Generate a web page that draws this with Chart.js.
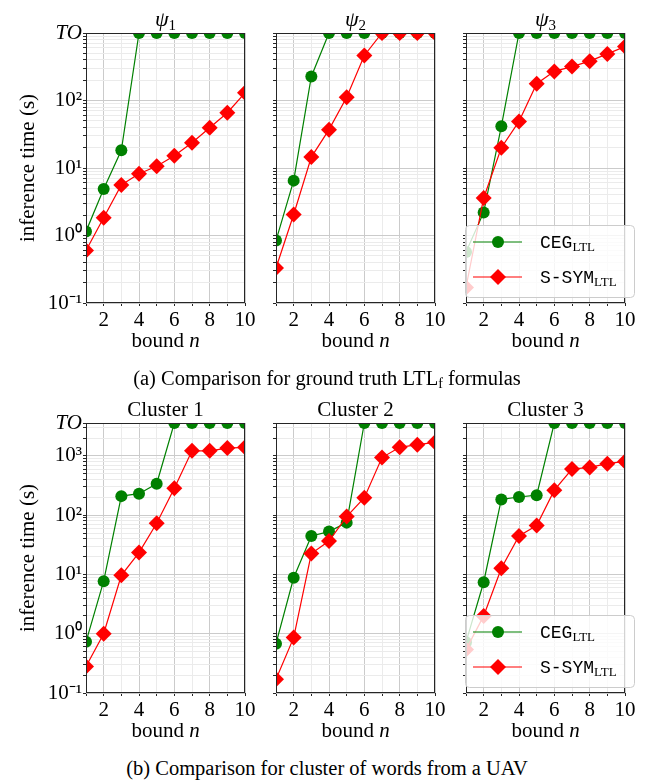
<!DOCTYPE html>
<html>
<head>
<meta charset="utf-8">
<script src="https://cdn.jsdelivr.net/npm/chart.js@4.4.1/dist/chart.umd.min.js"></script>
<style>
  body { margin: 0; background: #fff; }
  #fig { position: relative; width: 654px; height: 783px; overflow: hidden; }
  #fig canvas { position: absolute; }
  .caption {
    position: absolute; left: 0; width: 654px; text-align: center;
    font-family: "Liberation Serif", serif; font-size: 20.5px; line-height: 20px; color: #000;
  }
  .caption sub { font-size: 14px; vertical-align: -3px; line-height: 0; }
</style>
</head>
<body>
<div id="fig">
  <canvas id="psi1" width="260" height="360" style="left:0;top:0"></canvas>
  <canvas id="psi2" width="194" height="360" style="left:256px;top:0"></canvas>
  <canvas id="psi3" width="208" height="360" style="left:446px;top:0"></canvas>
  <canvas id="cl1" width="260" height="360" style="left:0;top:390px"></canvas>
  <canvas id="cl2" width="194" height="360" style="left:256px;top:390px"></canvas>
  <canvas id="cl3" width="208" height="360" style="left:446px;top:390px"></canvas>
  <div class="caption" style="top:368px">(a) Comparison for ground truth LTL<sub>f</sub> formulas</div>
  <div class="caption" style="top:758px">(b) Comparison for cluster of words from a UAV</div>
</div>
<script>
// bound n on the x axis
const bounds = [1, 2, 3, 4, 5, 6, 7, 8, 9, 10];
// time-out values (s) used for each row
const TO_A = 1000;
const TO_B = 3600;

// (a) ground truth formulas
const cegPsi1  = [1.15, 4.9, 18.3, TO_A, TO_A, TO_A, TO_A, TO_A, TO_A, TO_A];
const ssymPsi1 = [0.6, 1.83, 5.6, 8.2, 10.6, 15.2, 23.6, 39.4, 65.8, 130];
const cegPsi2  = [0.84, 6.5, 227, TO_A, TO_A, TO_A, TO_A, TO_A, TO_A, TO_A];
const ssymPsi2 = [0.33, 2.05, 14.5, 37, 112, 465, TO_A, TO_A, TO_A, TO_A];
const cegPsi3  = [0.57, 2.2, 41.5, TO_A, TO_A, TO_A, TO_A, TO_A, TO_A, TO_A];
const ssymPsi3 = [0.17, 3.6, 20, 49, 177, 270, 318, 383, 490, 630];

// (b) clusters of words from a UAV
const cegC1  = [0.73, 7.7, 210, 231, 340, TO_B, TO_B, TO_B, TO_B, TO_B];
const ssymC1 = [0.28, 1.0, 9.7, 23.4, 73, 285, 1220, 1220, 1360, 1400];
const cegC2  = [0.68, 8.8, 44.6, 53, 75, TO_B, TO_B, TO_B, TO_B, TO_B];
const ssymC2 = [0.17, 0.86, 22.5, 36.6, 95, 198, 940, 1400, 1550, 1700];
const cegC3  = [0.72, 7.4, 185, 203, 218, TO_B, TO_B, TO_B, TO_B, TO_B];
const ssymC3 = [0.54, 2.0, 12.7, 44.6, 67, 265, 600, 640, 740, 810];

const SERIF = '"Liberation Serif", serif';
const MONO = '"Liberation Mono", monospace';
const GREEN = '#008000';
const RED = '#ff0000';
const MAJOR = '#cbcbcb';
const MINOR = '#ebebeb';
const SPINE = '#262626';

const SUP = { '-1': '\u207B\u00B9', '0': '\u2070', '1': '\u00B9', '2': '\u00B2', '3': '\u00B3' };

// ticks for the log axis: decades get a label, the rest are minor
function logTicks(max) {
  const out = [];
  for (let e = -1; e <= 3; e++) {
    for (let k = 1; k <= 9; k++) {
      const v = Number((k * Math.pow(10, e)).toPrecision(2));
      if (v < max) out.push({ value: v, lbl: k === 1 ? '10' + SUP[e] : '' });
    }
  }
  out.push({ value: max, lbl: 'TO' });
  return out;
}

// draw text made of pieces with their own font / vertical shift
function drawRich(ctx, parts, cx, y, align) {
  let w = 0;
  parts.forEach(p => { ctx.font = p[1]; w += ctx.measureText(p[0]).width; });
  let x = align === 'left' ? cx : cx - w / 2;
  ctx.textAlign = 'left';
  ctx.textBaseline = 'alphabetic';
  parts.forEach(p => {
    ctx.font = p[1];
    ctx.fillText(p[0], x, y + (p[2] || 0));
    x += ctx.measureText(p[0]).width;
  });
}

function drawMarker(ctx, style, x, y, r, color) {
  ctx.fillStyle = color;
  ctx.beginPath();
  if (style === 'circle') {
    ctx.arc(x, y, r, 0, Math.PI * 2);
  } else {
    ctx.moveTo(x - r, y); ctx.lineTo(x, y - r); ctx.lineTo(x + r, y); ctx.lineTo(x, y + r);
    ctx.closePath();
  }
  ctx.fill();
}

const panelDecor = {
  id: 'panelDecor',
  afterDatasetsDraw(chart) {
    const { ctx, chartArea: a } = chart;
    ctx.save();
    ctx.strokeStyle = SPINE;
    ctx.lineWidth = 1;
    ctx.strokeRect(a.left + 0.5, a.top + 0.5, a.right - a.left - 1, a.bottom - a.top - 1);
    ctx.restore();
  },
  afterDraw(chart, args, opts) {
    const { ctx, chartArea: a } = chart;
    const cx = (a.left + a.right) / 2;
    ctx.save();
    ctx.fillStyle = '#000';
    drawRich(ctx, opts.title, cx, a.top - 7);
    drawRich(ctx, [['bound ', '21px ' + SERIF], ['n', 'italic 21px ' + SERIF]], cx, a.bottom + 44);
    if (opts.yTitle) {
      ctx.save();
      ctx.translate(28, (a.top + a.bottom) / 2);
      ctx.rotate(-Math.PI / 2);
      ctx.font = '21px ' + SERIF;
      ctx.textAlign = 'center';
      ctx.textBaseline = 'middle';
      ctx.fillText('inference time (s)', 0, 0);
      ctx.restore();
    }
    if (opts.legend) {
      const x0 = a.left - 1, y0 = a.bottom - 78, w = 169, h = 72;
      ctx.beginPath();
      ctx.roundRect(x0 + 0.5, y0 + 0.5, w, h, 4);
      ctx.fillStyle = 'rgba(255,255,255,0.8)';
      ctx.fill();
      ctx.strokeStyle = '#cccccc';
      ctx.lineWidth = 1;
      ctx.stroke();
      const items = [
        { color: GREEN, style: 'circle', r: 6, y: y0 + 17, text: 'CEG' },
        { color: RED, style: 'diamond', r: 8, y: y0 + 52, text: 'S-SYM' }
      ];
      items.forEach(it => {
        ctx.strokeStyle = it.color;
        ctx.lineWidth = 1.2;
        ctx.beginPath();
        ctx.moveTo(x0 + 8, it.y);
        ctx.lineTo(x0 + 57, it.y);
        ctx.stroke();
        drawMarker(ctx, it.style, x0 + 33, it.y, it.r, it.color);
        ctx.fillStyle = '#000';
        drawRich(ctx, [[it.text, '18px ' + MONO], ['LTL', '13px ' + SERIF, 3]], x0 + 75, it.y + 6, 'left');
      });
    }
    ctx.restore();
  }
};

function makePanel(id, ceg, ssym, cfg) {
  const xy = vals => bounds.map((n, i) => ({ x: n, y: vals[i] }));
  return new Chart(document.getElementById(id), {
    type: 'line',
    data: {
      datasets: [
        {
          label: 'S-SYM', data: xy(ssym), order: 0,
          borderColor: RED, backgroundColor: RED, borderWidth: 1.2,
          pointStyle: 'rectRot', pointRadius: 8, pointBorderWidth: 0
        },
        {
          label: 'CEG', data: xy(ceg), order: 1,
          borderColor: GREEN, backgroundColor: GREEN, borderWidth: 1.2,
          pointStyle: 'circle', pointRadius: 6, pointBorderWidth: 0
        }
      ]
    },
    options: {
      responsive: false,
      animation: false,
      layout: { padding: { top: 33, right: cfg.padRight, left: 0, bottom: 0 } },
      plugins: {
        legend: { display: false },
        tooltip: { enabled: false },
        panelDecor: { title: cfg.title, yTitle: cfg.yLabels, legend: cfg.legend }
      },
      scales: {
        x: {
          type: 'linear', min: 1, max: 10,
          afterBuildTicks: s => { s.ticks = bounds.map(v => ({ value: v })); },
          afterFit: s => { s.height = 57; },
          ticks: {
            autoSkip: false, maxRotation: 0, padding: 2, color: '#000',
            font: { family: SERIF, size: 21 },
            callback: v => (v % 2 === 0 ? String(v) : '')
          },
          grid: {
            color: c => (c.tick && c.tick.value % 2 === 0 ? MAJOR : MINOR),
            tickColor: SPINE, tickLength: 3
          },
          border: { display: false }
        },
        y: {
          type: 'logarithmic', min: 0.1, max: cfg.to,
          afterBuildTicks: s => { s.ticks = logTicks(cfg.to); },
          afterFit: s => { s.width = cfg.yWidth; },
          ticks: {
            autoSkip: false, padding: 1, color: '#000',
            font: c => ({ family: SERIF, size: 21, style: c.tick && c.tick.lbl === 'TO' ? 'italic' : 'normal' }),
            callback: (v, i, t) => (cfg.yLabels ? t[i].lbl : '')
          },
          grid: {
            color: c => (c.tick && c.tick.lbl ? MAJOR : MINOR),
            tickColor: SPINE, tickLength: 3
          },
          border: { display: false }
        }
      }
    },
    plugins: [panelDecor]
  });
}

const psiTitle = d => [['\u03C8', 'italic 22px ' + SERIF], [d, '15px ' + SERIF, 4]];
const clTitle = d => [['Cluster ' + d, '21px ' + SERIF]];

makePanel('psi1', cegPsi1, ssymPsi1, { title: psiTitle('1'), to: TO_A, yWidth: 86, padRight: 15, yLabels: true });
makePanel('psi2', cegPsi2, ssymPsi2, { title: psiTitle('2'), to: TO_A, yWidth: 20, padRight: 15 });
makePanel('psi3', cegPsi3, ssymPsi3, { title: psiTitle('3'), to: TO_A, yWidth: 20, padRight: 29, legend: true });
makePanel('cl1', cegC1, ssymC1, { title: clTitle('1'), to: TO_B, yWidth: 86, padRight: 15, yLabels: true });
makePanel('cl2', cegC2, ssymC2, { title: clTitle('2'), to: TO_B, yWidth: 20, padRight: 15 });
makePanel('cl3', cegC3, ssymC3, { title: clTitle('3'), to: TO_B, yWidth: 20, padRight: 29, legend: true });
</script>
</body>
</html>
